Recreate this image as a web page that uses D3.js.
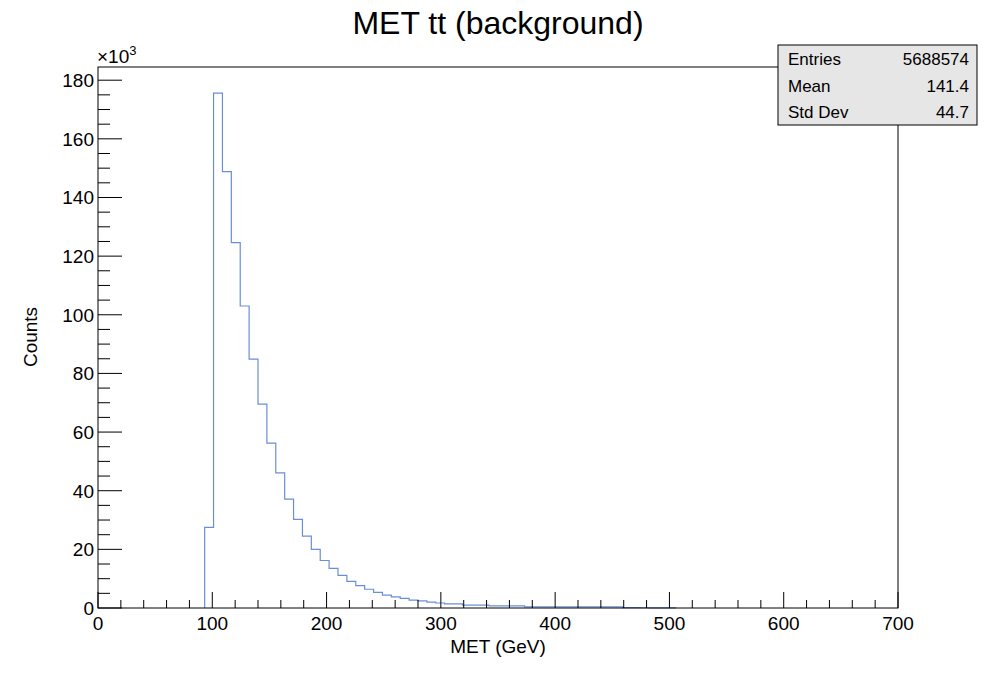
<!DOCTYPE html>
<html>
<head>
<meta charset="utf-8">
<script src="https://cdn.jsdelivr.net/npm/d3@7"></script>
<style>
	body { margin: 0; background: #fff; }
	text { font-family: "Liberation Sans", Arial, sans-serif; }
</style>
</head>
<body>
<svg id="chart" width="998" height="676"></svg>
<script>
// histogram: 90 bins over 0..700 GeV, counts in units of 10^3
var xMin = 0, xMax = 700, nBins = 90
var counts = [0,0,0,0,0,0,0,0,0,0,0,0,
	27.5,175.6,148.8,124.6,103.0,84.9,69.5,56.2,46.1,37.1,30.2,24.5,20.0,16.2,13.5,11.1,9.1,7.6,6.4,5.3,4.4,
	3.8,3.3,2.7,2.4,2.0,1.7,1.4,1.4,1.0,1.0,1.0,0.7,0.7,0.7,0.7,
	0.35,0.35,0.35,0.35,0.35,0.35,0.35,0.35,0.35,0.35,0.35,
	0.12,0.1,0.08,0.06,0.05,0.04]
var xTicks = [0,100,200,300,400,500,600,700]
var yTicks = [0,20,40,60,80,100,120,140,160,180]
var statNames = ['Entries', 'Mean', 'Std Dev']
var statValues = ['5688574', '141.4', '44.7']

var svg = d3.select('#chart')
var L = 98, R = 898, T = 67, B = 608

var x = d3.scaleLinear().domain([xMin, xMax]).range([L, R])
var y = d3.scaleLinear().domain([0, 184.5]).range([B, T])
var bw = (xMax - xMin) / nBins

// step line
var pts = [[x(12 * bw), y(0)]]
counts.forEach(function (c, i) {
	if (i < 12) return
	pts.push([x(i * bw), y(c)])
	pts.push([x((i + 1) * bw), y(c)])
})
pts.push([x(counts.length * bw), y(0)])
svg.append('path')
	.attr('d', d3.line()(pts))
	.attr('fill', 'none')
	.attr('stroke', '#6a8fd8')
	.attr('stroke-width', 1.2)

// frame
svg.append('rect')
	.attr('x', L).attr('y', T).attr('width', R - L).attr('height', B - T)
	.attr('fill', 'none').attr('stroke', '#000').attr('stroke-width', 1)

// x ticks
var xt = svg.append('g')
for (var v = 0; v <= 700; v += 20) {
	var major = v % 100 == 0
	xt.append('line')
		.attr('x1', x(v)).attr('x2', x(v))
		.attr('y1', B).attr('y2', B - (major ? 16 : 8))
		.attr('stroke', '#000')
}
xt.selectAll('text').data(xTicks).enter().append('text')
	.attr('x', function (d) { return x(d) }).attr('y', B + 22)
	.attr('text-anchor', 'middle').attr('font-size', 19)
	.text(function (d) { return d })

// y ticks
var yt = svg.append('g')
for (var w = 0; w <= 180; w += 5) {
	var maj = w % 20 == 0
	yt.append('line')
		.attr('x1', L).attr('x2', L + (maj ? 24 : 12))
		.attr('y1', y(w)).attr('y2', y(w))
		.attr('stroke', '#000')
}
yt.selectAll('text').data(yTicks).enter().append('text')
	.attr('x', L - 4).attr('y', function (d) { return y(d) + 7 })
	.attr('text-anchor', 'end').attr('font-size', 19)
	.text(function (d) { return d })

svg.append('text').attr('x', 97).attr('y', 63).attr('font-size', 19)
	.html('×10<tspan font-size="13" dy="-8">3</tspan>')

// labels
svg.append('text').attr('x', 498).attr('y', 34).attr('text-anchor', 'middle')
	.attr('font-size', 32).text('MET tt (background)')
svg.append('text').attr('x', 898 - 400).attr('y', 653).attr('text-anchor', 'middle')
	.attr('font-size', 19).text('MET (GeV)')
svg.append('text').attr('transform', 'translate(37,337) rotate(-90)')
	.attr('text-anchor', 'middle').attr('font-size', 19).text('Counts')

// stats box
var sb = svg.append('g')
sb.append('rect').attr('x', 778).attr('y', 45).attr('width', 199).attr('height', 80)
	.attr('fill', '#e6e6e6').attr('stroke', '#000')
statNames.forEach(function (n, i) {
	sb.append('text').attr('x', 788).attr('y', 65 + i * 26.5).attr('font-size', 17).text(n)
	sb.append('text').attr('x', 969).attr('y', 65 + i * 26.5).attr('font-size', 17)
		.attr('text-anchor', 'end').text(statValues[i])
})
</script>
</body>
</html>
